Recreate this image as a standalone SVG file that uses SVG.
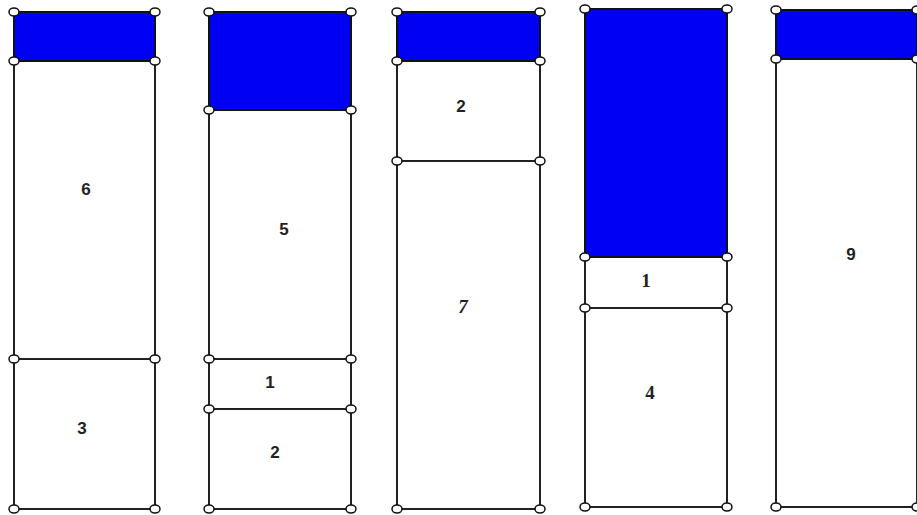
<svg xmlns="http://www.w3.org/2000/svg" width="917" height="515" viewBox="0 0 917 515">
<defs>
<style>
.blue{fill:#0000f2;stroke:#111;stroke-width:2}
.box{fill:#fff;stroke:#222;stroke-width:2}
.ln{stroke:#222;stroke-width:2;fill:none}
.pt{fill:#fff;stroke:#111;stroke-width:1.5}
.lb{font-family:"Liberation Sans",Arial,sans-serif;font-size:17px;font-weight:bold;fill:#222;text-anchor:middle}
.ls{font-family:"Liberation Serif","Times New Roman",serif;font-size:19px;font-weight:bold;fill:#222;text-anchor:middle}
</style>
</defs>
<rect width="917" height="515" fill="#fff"/>
<g id="column1">
<rect class="box" x="14" y="12" width="141" height="497"/>
<rect class="blue" x="14" y="12" width="141" height="49"/>
<line class="ln" x1="14" y1="359" x2="155" y2="359"/>
<text class="lb" x="86" y="195">6</text>
<text class="lb" x="82" y="434">3</text>
<g class="pt"><ellipse cx="14" cy="12" rx="5" ry="4"/><ellipse cx="155" cy="12" rx="5" ry="4"/><ellipse cx="14" cy="61" rx="5" ry="4"/><ellipse cx="155" cy="61" rx="5" ry="4"/><ellipse cx="14" cy="359" rx="5" ry="4"/><ellipse cx="155" cy="359" rx="5" ry="4"/><ellipse cx="14" cy="509" rx="5" ry="4"/><ellipse cx="155" cy="509" rx="5" ry="4"/></g>
</g>
<g id="column2">
<rect class="box" x="209" y="12" width="142" height="497"/>
<rect class="blue" x="209" y="12" width="142" height="98"/>
<line class="ln" x1="209" y1="359" x2="351" y2="359"/>
<line class="ln" x1="209" y1="409" x2="351" y2="409"/>
<text class="lb" x="284" y="235">5</text>
<text class="lb" x="270" y="388">1</text>
<text class="lb" x="275" y="458">2</text>
<g class="pt"><ellipse cx="209" cy="12" rx="5" ry="4"/><ellipse cx="351" cy="12" rx="5" ry="4"/><ellipse cx="209" cy="110" rx="5" ry="4"/><ellipse cx="351" cy="110" rx="5" ry="4"/><ellipse cx="209" cy="359" rx="5" ry="4"/><ellipse cx="351" cy="359" rx="5" ry="4"/><ellipse cx="209" cy="409" rx="5" ry="4"/><ellipse cx="351" cy="409" rx="5" ry="4"/><ellipse cx="209" cy="509" rx="5" ry="4"/><ellipse cx="351" cy="509" rx="5" ry="4"/></g>
</g>
<g id="column3">
<rect class="box" x="397" y="12" width="143" height="497"/>
<rect class="blue" x="397" y="12" width="143" height="49"/>
<line class="ln" x1="397" y1="161" x2="540" y2="161"/>
<text class="lb" x="461" y="112">2</text>
<text class="ls" x="463" y="313" font-style="italic" font-weight="normal">7</text>
<g class="pt"><ellipse cx="397" cy="12" rx="5" ry="4"/><ellipse cx="540" cy="12" rx="5" ry="4"/><ellipse cx="397" cy="61" rx="5" ry="4"/><ellipse cx="540" cy="61" rx="5" ry="4"/><ellipse cx="397" cy="161" rx="5" ry="4"/><ellipse cx="540" cy="161" rx="5" ry="4"/><ellipse cx="397" cy="509" rx="5" ry="4"/><ellipse cx="540" cy="509" rx="5" ry="4"/></g>
</g>
<g id="column4">
<rect class="box" x="585" y="9" width="142" height="498"/>
<rect class="blue" x="585" y="9" width="142" height="248"/>
<line class="ln" x1="585" y1="308" x2="727" y2="308"/>
<text class="ls" x="646" y="287" font-weight="normal">1</text>
<text class="ls" x="650" y="399">4</text>
<g class="pt"><ellipse cx="585" cy="9" rx="5" ry="4"/><ellipse cx="727" cy="9" rx="5" ry="4"/><ellipse cx="585" cy="257" rx="5" ry="4"/><ellipse cx="727" cy="257" rx="5" ry="4"/><ellipse cx="585" cy="308" rx="5" ry="4"/><ellipse cx="727" cy="308" rx="5" ry="4"/><ellipse cx="585" cy="507" rx="5" ry="4"/><ellipse cx="727" cy="507" rx="5" ry="4"/></g>
</g>
<g id="column5">
<rect class="box" x="776" y="10" width="141" height="497"/>
<rect class="blue" x="776" y="10" width="141" height="49"/>
<text class="lb" x="851" y="260">9</text>
<g class="pt"><ellipse cx="776" cy="10" rx="5" ry="4"/><ellipse cx="917" cy="10" rx="5" ry="4"/><ellipse cx="776" cy="59" rx="5" ry="4"/><ellipse cx="917" cy="59" rx="5" ry="4"/><ellipse cx="776" cy="507" rx="5" ry="4"/><ellipse cx="917" cy="507" rx="5" ry="4"/></g>
</g>
</svg>
